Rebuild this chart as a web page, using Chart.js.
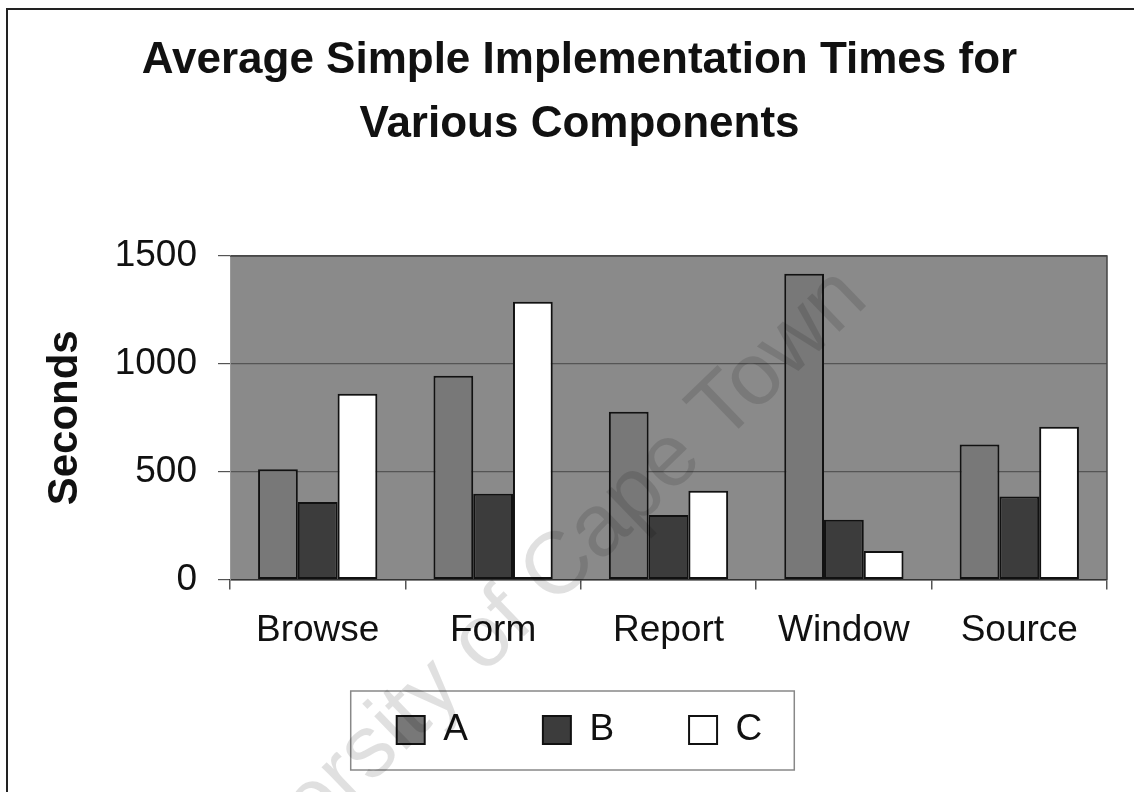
<!DOCTYPE html>
<html>
<head>
<meta charset="utf-8">
<script src="https://cdn.jsdelivr.net/npm/chart.js@4/dist/chart.umd.min.js"></script>
<style>
  html, body { margin: 0; padding: 0; background: #fff; }
  #wrap { width: 1134px; height: 792px; position: relative; }
</style>
</head>
<body>
<div id="wrap"><canvas id="chart" width="1134" height="792"></canvas></div>
<script>
// data
const categories = ['Browse', 'Form', 'Report', 'Window', 'Source'];
const seriesA = [512, 945, 778, 1418, 626];
const seriesB = [360, 398, 300, 278, 385];
const seriesC = [862, 1288, 412, 132, 708];
const yTicks = [0, 500, 1000, 1500];

const FONT = "'Liberation Sans', Arial, sans-serif";
const LEGEND_PAD = 75;

// white page, frame lines, grey plot area
const backdrop = {
  id: 'backdrop',
  beforeDraw(chart) {
    const {ctx, chartArea: a} = chart;
    ctx.save();
    ctx.fillStyle = '#fff';
    ctx.fillRect(0, 0, chart.width, chart.height);
    ctx.strokeStyle = '#222';
    ctx.lineWidth = 2;
    ctx.beginPath();
    ctx.moveTo(7, chart.height);
    ctx.lineTo(7, 9);
    ctx.lineTo(chart.width, 9);
    ctx.stroke();
    ctx.fillStyle = '#8a8a8a';
    ctx.fillRect(a.left, a.top, a.right - a.left, a.bottom - a.top);
    ctx.restore();
  },
  afterDatasetsDraw(chart) {
    const {ctx, chartArea: a} = chart;
    ctx.save();
    ctx.strokeStyle = '#444';
    ctx.lineWidth = 1.5;
    ctx.beginPath();
    ctx.moveTo(a.left, a.top);
    ctx.lineTo(a.right, a.top);
    ctx.lineTo(a.right, a.bottom);
    ctx.stroke();
    ctx.restore();
  }
};

// legend sits a bit higher than the stacked layout puts it; frame it + faint watermark
const extras = {
  id: 'extras',
  afterLayout(chart) {
    const lg = chart.legend;
    const shift = lg.top - 636.5;
    lg.top -= shift;
    lg.bottom -= shift;
  },
  afterDraw(chart) {
    const {ctx} = chart;
    const lg = chart.legend;
    const hb = lg.legendHitBoxes;
    if (hb && hb.length) {
      const cy = lg.top + LEGEND_PAD + 37 / 2;
      const l = Math.min(...hb.map(h => h.left)) - 46;
      const r = Math.max(...hb.map(h => h.left + h.width)) + 32;
      const t = cy - 39;
      const b = cy + 40;
      ctx.save();
      ctx.strokeStyle = '#888';
      ctx.lineWidth = 1.5;
      ctx.strokeRect(l, t, r - l, b - t);
      ctx.restore();
    }
    ctx.save();
    ctx.translate(512, 614);
    ctx.rotate(-44 * Math.PI / 180);
    ctx.font = '88px ' + FONT;
    ctx.fillStyle = 'rgba(0,0,0,0.12)';
    ctx.textAlign = 'center';
    ctx.textBaseline = 'middle';
    ctx.fillText('University of Cape Town', 0, 0);
    ctx.restore();
  }
};

new Chart(document.getElementById('chart').getContext('2d'), {
  type: 'bar',
  data: {
    labels: categories,
    datasets: [
      { label: 'A', data: seriesA, backgroundColor: '#787878' },
      { label: 'B', data: seriesB, backgroundColor: '#3c3c3c' },
      { label: 'C', data: seriesC, backgroundColor: '#ffffff' }
    ].map(d => Object.assign(d, {
      borderColor: '#111',
      borderWidth: 2,
      borderSkipped: false,
      categoryPercentage: 0.68,
      barPercentage: 1.0
    }))
  },
  options: {
    responsive: false,
    animation: false,
    layout: { padding: { left: 52, right: 27, top: 0, bottom: -2 } },
    plugins: {
      title: {
        display: true,
        text: ['Average Simple Implementation Times for', 'Various Components'],
        color: '#111',
        font: { family: FONT, size: 44, weight: 'bold', lineHeight: 64 / 44 },
        padding: { top: 29, bottom: 99 }
      },
      legend: {
        position: 'bottom',
        labels: {
          color: '#111',
          font: { family: FONT, size: 37 },
          boxWidth: 28,
          boxHeight: 28,
          padding: LEGEND_PAD
        }
      },
      tooltip: { enabled: false }
    },
    scales: {
      x: {
        offset: true,
        grid: { display: true, drawOnChartArea: false, tickLength: 10, color: '#555', lineWidth: 1.5 },
        border: { display: true, color: '#333', width: 1.5 },
        ticks: { color: '#111', padding: 19, font: { family: FONT, size: 37 } }
      },
      y: {
        min: 0,
        max: 1500,
        afterBuildTicks(scale) { scale.ticks = yTicks.map(v => ({ value: v })); },
        grid: { color: '#555', lineWidth: 1.2, tickLength: 12 },
        border: { display: true, color: '#999', width: 1 },
        ticks: {
          color: '#111', padding: 21, font: { family: FONT, size: 37 },
          callback: v => String(v)
        },
        title: {
          display: true,
          text: 'Seconds',
          color: '#111',
          font: { family: FONT, size: 42, weight: 'bold', lineHeight: 1.2 },
          padding: { top: -12 }
        },
        afterFit(scale) { scale.width = 178; }
      }
    }
  },
  plugins: [backdrop, extras]
});
</script>
</body>
</html>
